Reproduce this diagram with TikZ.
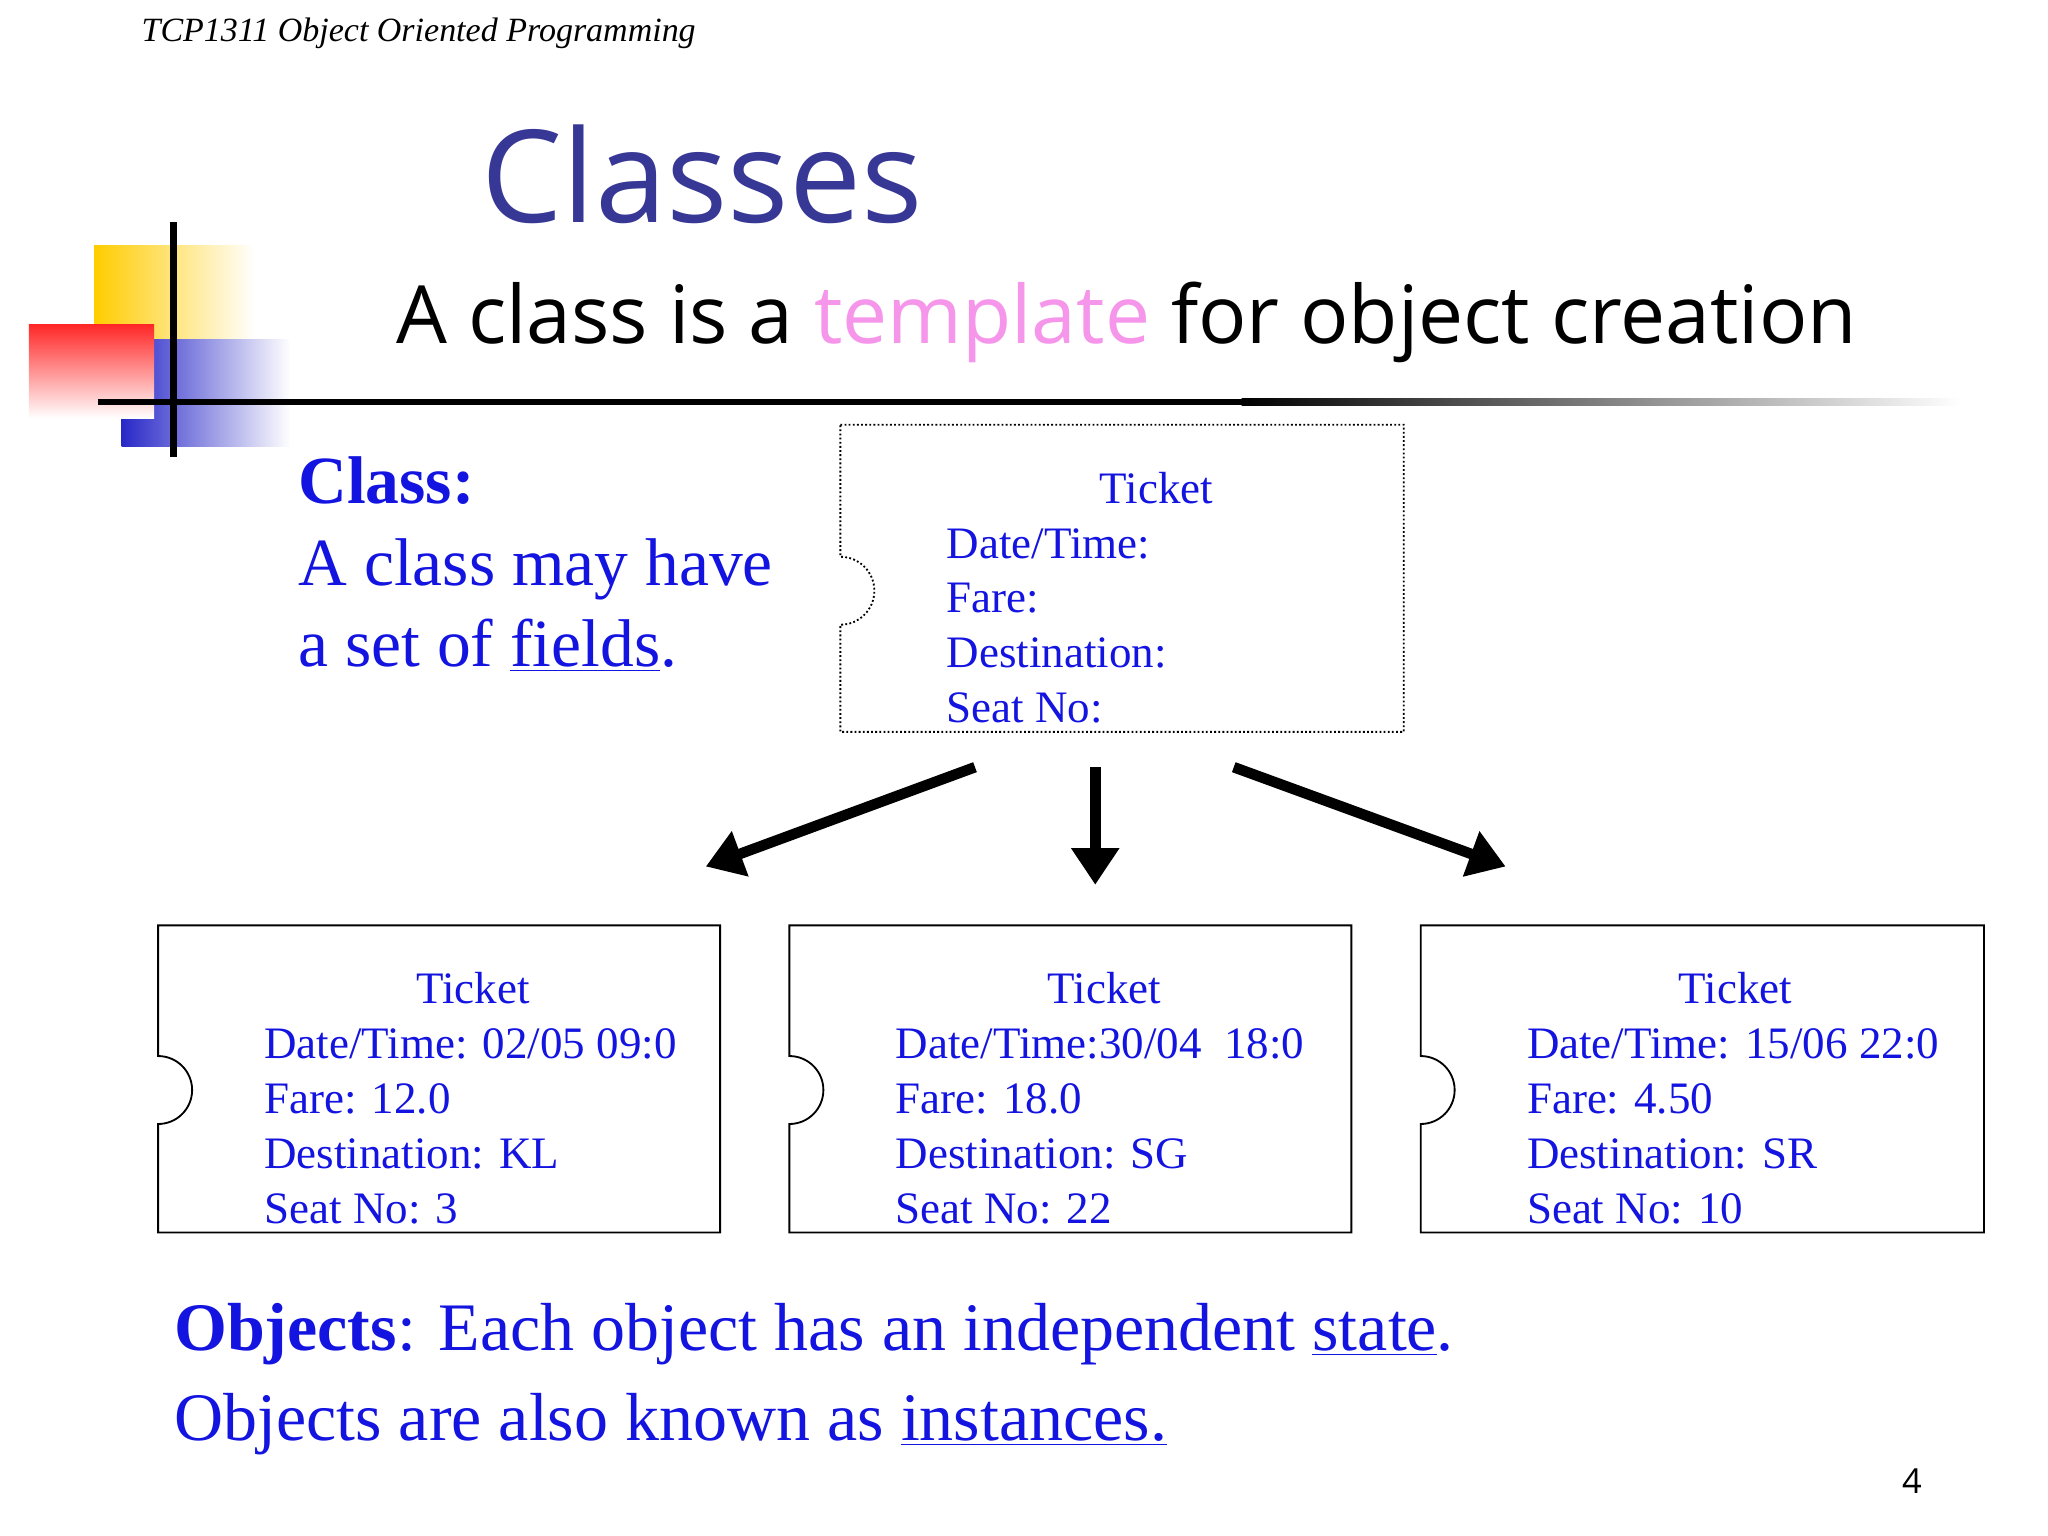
\documentclass[tikz,border=0pt]{standalone}
\usepackage{fontspec}
\setmainfont{Liberation Serif}
\newfontfamily\osans{Open Sans}
\usetikzlibrary{arrows.meta}
\definecolor{tblue}{RGB}{20,20,225}
\definecolor{ttl}{RGB}{55,55,150}
\definecolor{pnk}{RGB}{245,150,235}
\tikzset{
  tk/.style={font=\fontsize{19.6}{22}\selectfont, text=tblue, anchor=base west, inner sep=0pt},
  tkh/.style={font=\fontsize{19.6}{22}\selectfont, text=tblue, anchor=base, inner sep=0pt},
  big/.style={font=\fontsize{29.6}{34}\selectfont, text=tblue, anchor=base west, inner sep=0pt},
  fat/.style={line width=4.6pt, -{Triangle[length=16pt,width=20pt]}},
}
\newcommand\tick[6]{\draw[#1] (#2,-#4) -- (#3,-#4) -- (#3,-#5) -- (#2,-#5) -- (#2,{-(#6+26)}) arc[start angle=-90,end angle=90,radius=0.52cm] -- cycle;}
\begin{document}
\begin{tikzpicture}[x=0.02cm,y=0.02cm]
\useasboundingbox (0,0) rectangle (1567,-1175);
% logo
\shade[left color={rgb,255:red,255;green,204;blue,0}, right color=white] (72,-188) rectangle (195,-300);
\shade[left color={rgb,255:red,40;green,40;blue,200}, right color=white] (93,-260) rectangle (222,-342);
\shade[shading angle=225, top color=red!85, bottom color=white] (22,-248) rectangle (118,-320);
\fill[black] (75,-305) rectangle (950,-310);
\shade[left color=black, right color=white] (950,-305) rectangle (1500,-310);
\draw[line width=3pt] (133,-170) -- (133,-350);
% texts
\node[anchor=base west, inner sep=0pt, font=\itshape\fontsize{14.8}{16}\selectfont] (hdr) at (108,-32) {TCP1311 Object Oriented Programming};
\node[anchor=base west, inner sep=0pt, font=\osans\fontsize{56}{60}\selectfont, text=ttl] (ttl) at (368,-170) {Classes};
\node[anchor=base west, inner sep=0pt, font=\osans\fontsize{35}{40}\selectfont] (sub) at (303,-263) {A class is a \textcolor{pnk}{template} for object creation};
\node[big, font=\bfseries\fontsize{29.4}{30}\selectfont] (cl) at (228,-385) {Class:};
\node[big, font=\fontsize{29.4}{30}\selectfont] (cl2) at (228,-448) {A class may have};
\node[big, font=\fontsize{29.4}{30}\selectfont] (cl3) at (228,-510) {a set of \underline{fields}.};
% class ticket
\tick{densely dotted, thick}{643}{1074}{325}{560}{452}
\node[tkh] (t0) at (885,-385) {Ticket};
\node[tk] (a0) at (724,-427) {Date/Time:};
\node[tk] (b0) at (724,-469) {Fare:};
\node[tk] (c0) at (724,-511) {Destination:};
\node[tk] (d0) at (724,-553) {Seat No:};
% instance tickets
\tick{thick}{121}{551}{708}{943}{834}
\tick{thick}{604}{1034}{708}{943}{834}
\tick{thick}{1087}{1518}{708}{943}{834}
\foreach \dx/\n/\dt/\fa/\de/\se in {0/1/{Date/Time: 02/05 09:0}/{Fare: 12.0}/{Destination: KL}/{Seat No: 3},
  483/2/{Date/Time:30/04\ \ 18:0}/{Fare: 18.0}/{Destination: SG}/{Seat No: 22},
  966/3/{Date/Time: 15/06 22:0}/{Fare: 4.50}/{Destination: SR}/{Seat No: 10}}{
  \node[tkh] (t\n) at (362+\dx,-768) {Ticket};
  \node[tk] (a\n) at (202+\dx,-810) {\dt};
  \node[tk] (b\n) at (202+\dx,-852) {\fa};
  \node[tk] (c\n) at (202+\dx,-894) {\de};
  \node[tk] (d\n) at (202+\dx,-936) {\se};
}
% arrows
\coordinate (s1) at (746,-587); \coordinate (e1) at (540,-663);
\coordinate (s2) at (838,-587); \coordinate (e2) at (838,-677);
\coordinate (s3) at (944,-587); \coordinate (e3) at (1152,-663);
\draw[fat] (s1) -- (e1);
\draw[fat] (s2) -- (e2);
\draw[fat] (s3) -- (e3);
% bottom
\node[big] (o1) at (133,-1033) {\textbf{Objects}: Each object has an independent \underline{state}.};
\node[big] (o2) at (133,-1102) {Objects are also known as \underline{instances.}};
\node[anchor=base west, inner sep=0pt, font=\osans\fontsize{15}{17}\selectfont] (pg) at (1455,-1143) {4};
\end{tikzpicture}
\end{document}
